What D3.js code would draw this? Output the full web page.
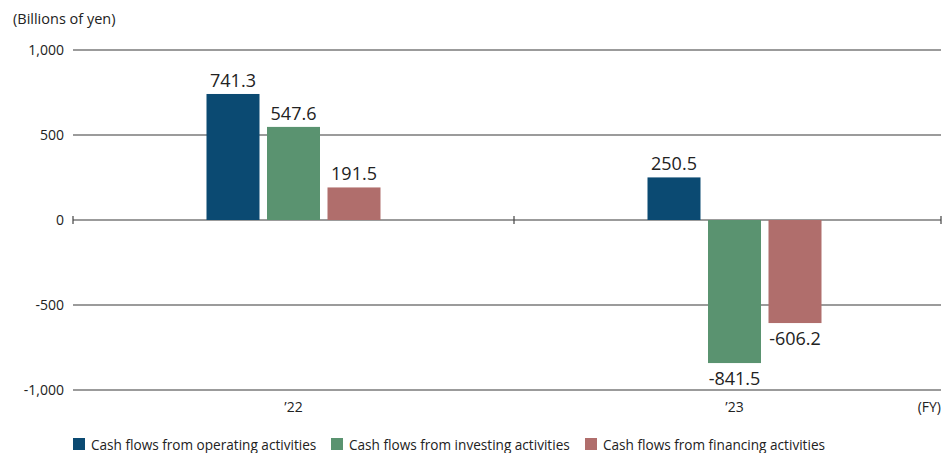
<!DOCTYPE html>
<html>
<head>
<meta charset="utf-8">
<style>
  body { margin: 0; background: #fff; }
  svg { display: block; font-family: 'Open Sans', 'Noto Sans', sans-serif; }
  .grid line { stroke: #7a7a7a; stroke-width: 1.3px; }
  .tick-label { font-size: 14px; fill: #222; }
  .val { font-size: 18px; fill: #222; }
  .legend text { font-size: 13.6px; fill: #222; }
</style>
</head>
<body>
<svg id="chart" width="944" height="453"></svg>
<script src="https://cdn.jsdelivr.net/npm/d3@7/dist/d3.min.js"></script>
<script>
// data
const years = ["’22", "’23"];
const seriesNames = ["Cash flows from operating activities", "Cash flows from investing activities", "Cash flows from financing activities"];
const operating = [741.3, 250.5];
const investing = [547.6, -841.5];
const financing = [191.5, -606.2];
const yTicks = [1000, 500, 0, -500, -1000];
const colors = ["#0b4a72", "#5a9370", "#b06e6c"];

// plain hyphen instead of d3's unicode minus
const fmtTick = d => d3.format(",")(d).replace("−", "-");
const fmtVal = d => d3.format(".1f")(d).replace("−", "-");

const svg = d3.select("#chart");
const left = 73, right = 941;

const y = d3.scaleLinear().domain([-1000, 1000]).range([390, 50]);
const x = d3.scaleBand().domain(years).range([73, 955]).padding(0);
const inner = d3.scaleBand().domain(d3.range(3)).range([-87, 87]).paddingInner(0.124);

// gridlines
const grid = svg.append("g").attr("class", "grid");
grid.selectAll("line").data(yTicks).join("line")
  .attr("x1", left).attr("x2", right)
  .attr("y1", d => y(d)).attr("y2", d => y(d));

svg.append("g").selectAll("text").data(yTicks).join("text")
  .attr("class", "tick-label")
  .attr("x", 64).attr("y", d => y(d) + 5)
  .attr("text-anchor", "end")
  .text(fmtTick);

svg.append("text").attr("class", "tick-label")
  .attr("x", 13).attr("y", 24).style("font-size", "14.5px").text("(Billions of yen)");

// bars
const series = [operating, investing, financing];
const rows = [];
years.forEach((yr, i) => series.forEach((s, j) => rows.push({ yr, j, v: s[i] })));

svg.append("g").selectAll("rect").data(rows).join("rect")
  .attr("x", d => x(d.yr) + x.bandwidth() / 2 + inner(d.j))
  .attr("width", inner.bandwidth())
  .attr("y", d => y(Math.max(0, d.v)))
  .attr("height", d => Math.abs(y(d.v) - y(0)))
  .attr("fill", d => colors[d.j]);

svg.append("g").selectAll("text").data(rows).join("text")
  .attr("class", "val")
  .attr("text-anchor", "middle")
  .attr("x", d => x(d.yr) + x.bandwidth() / 2 + inner(d.j) + inner.bandwidth() / 2)
  .attr("y", d => d.v >= 0 ? y(d.v) - 7 : y(d.v) + 22)
  .text(d => fmtVal(d.v));

// zero line separators
const seps = [left, x(years[1]), right];
svg.append("g").selectAll("line").data(seps).join("line")
  .attr("x1", d => d).attr("x2", d => d)
  .attr("y1", y(0) - 4).attr("y2", y(0) + 4)
  .attr("stroke", "#444").attr("stroke-width", 1.2);

// x labels
svg.append("g").selectAll("text").data(years).join("text")
  .attr("class", "tick-label")
  .attr("text-anchor", "middle")
  .attr("x", d => x(d) + x.bandwidth() / 2)
  .attr("y", 412)
  .text(d => d);

svg.append("text").attr("class", "tick-label")
  .attr("x", 941).attr("y", 412).attr("text-anchor", "end").text("(FY)");

// legend
const legendX = [73, 331, 585];
const legend = svg.append("g").attr("class", "legend");
const items = legend.selectAll("g").data(seriesNames).join("g")
  .attr("transform", (d, i) => `translate(${legendX[i]},438)`);
items.append("rect").attr("width", 12).attr("height", 12).attr("fill", (d, i) => colors[i]);
items.append("text").attr("x", 18).attr("y", 12).text(d => d);
</script>
</body>
</html>
